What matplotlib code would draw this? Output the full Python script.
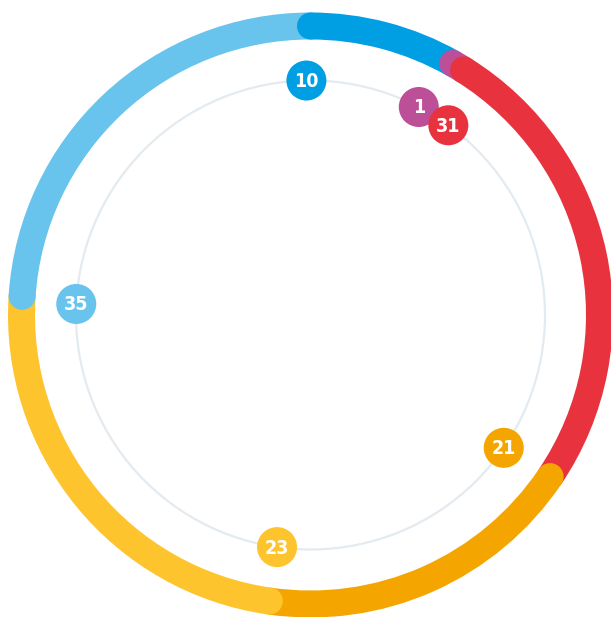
import numpy as np
import matplotlib
matplotlib.use("Agg")
import matplotlib.pyplot as plt
from matplotlib.patches import Wedge, Circle

# values shown in the bubbles, clockwise from 12 o'clock
values = [10, 1, 31, 21, 23, 35]
colors = ['#009FE3', '#BD4F98', '#E8333F', '#F5A500', '#FEC42E', '#68C4EC']
# arc length of each segment (degrees)
arc_deg = [29.5, 2.5, 92.0, 64.2, 85.5, 86.3]
# small nudges so overlapping bubbles stay readable
label_shift = [-1.0, -2.0, 4.0, 0.5, 0.0, -1.0]

cx, cy = 310.5, 315.0
ring_r, ring_w = 289.0, 27.0
inner_r = 234.5
bubble_r = 20.0

fig = plt.figure(figsize=(6.11, 6.17), dpi=100)
ax = fig.add_axes([0, 0, 1, 1])
ax.set_xlim(0, 611)
ax.set_ylim(617, 0)
ax.axis('off')

def pos(r, theta):
    # theta: clockwise degrees from the top
    t = np.radians(theta)
    return cx + r * np.sin(t), cy - r * np.cos(t)

# thin guide circle
ax.add_patch(Circle((cx, cy), inner_r, fill=False, edgecolor='#E3EBF0', lw=1.6, zorder=1))

starts = np.concatenate([[0], np.cumsum(arc_deg)[:-1]])

# ring segments with butt ends
for s, a, c in zip(starts, arc_deg, colors):
    ax.add_patch(Wedge((cx, cy), ring_r + ring_w / 2, s - 90, s + a - 90,
                       width=ring_w, facecolor=c, edgecolor='none', zorder=2))

# rounded start caps, each over the end of the previous segment
for s, c in zip(starts, colors):
    ax.add_patch(Circle(pos(ring_r, s), ring_w / 2, facecolor=c, edgecolor='none', zorder=3))

# bubbles with values
for i, (s, v, c) in enumerate(zip(starts, values, colors)):
    x, y = pos(inner_r, s + label_shift[i])
    ax.add_patch(Circle((x, y), bubble_r, facecolor=c, edgecolor='none', zorder=4 + i))
    ax.text(x, y + 1, str(v), color='white', fontsize=14, fontweight='bold',
            family='DejaVu Sans', fontstretch='condensed',
            ha='center', va='center', zorder=4 + i)

fig.savefig('out.png', dpi=100)
